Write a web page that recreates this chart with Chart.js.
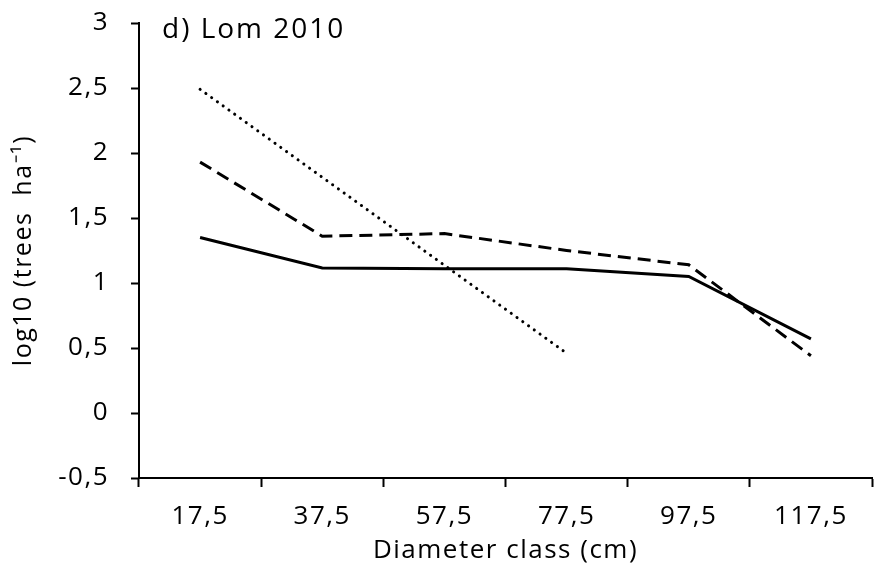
<!DOCTYPE html>
<html>
<head>
<meta charset="utf-8">
<script src="https://cdn.jsdelivr.net/npm/chart.js@4/dist/chart.umd.min.js"></script>
<style>
  html, body { margin: 0; padding: 0; background: #fff; }
  #wrap { width: 883px; height: 566px; }
</style>
</head>
<body>
<div id="wrap"><canvas id="lomChart"></canvas></div>
<script>
// Diameter classes (cm)
const diameterClasses = ['17,5', '37,5', '57,5', '77,5', '97,5', '117,5'];

// log10(trees/ha) per diameter class
const solidSeries = [1.35, 1.115, 1.11, 1.11, 1.05, 0.57];
const dashedSeries = [1.93, 1.36, 1.38, 1.25, 1.14, 0.44];
const dottedSeries = [2.49, null, null, 0.46, null, null];

const yTicks = [-0.5, 0, 0.5, 1, 1.5, 2, 2.5, 3];

const fontFamily = '"Open Sans", sans-serif';

// a bit of letter spacing so the text is as wide as in the original
const wideText = {
    id: 'wideText',
    beforeDraw(chart) { chart.ctx.letterSpacing = '1.5px'; },
    afterDraw(chart) { chart.ctx.letterSpacing = '0px'; }
};

// panel label drawn inside the plot area, top-left
const panelLabel = {
    id: 'panelLabel',
    afterDraw(chart) {
        const ctx = chart.ctx;
        const area = chart.chartArea;
        ctx.save();
        ctx.font = '28px ' + fontFamily;
        ctx.letterSpacing = '2px';
        ctx.fillStyle = '#000';
        ctx.textBaseline = 'middle';
        ctx.fillText('d) Lom 2010', area.left + 23, area.top + 7);
        ctx.restore();
    }
};

const ctx = document.getElementById('lomChart').getContext('2d');

new Chart(ctx, {
    type: 'line',
    data: {
        labels: diameterClasses,
        datasets: [
            {
                data: solidSeries,
                borderColor: '#000',
                borderWidth: 3,
                pointRadius: 0,
                tension: 0
            },
            {
                data: dashedSeries,
                borderColor: '#000',
                borderWidth: 3,
                borderDash: [13, 7],
                pointRadius: 0,
                tension: 0
            },
            {
                data: dottedSeries,
                borderColor: '#000',
                borderWidth: 3,
                borderDash: [0.1, 7],
                borderCapStyle: 'round',
                pointRadius: 0,
                spanGaps: true,
                tension: 0
            }
        ]
    },
    options: {
        responsive: true,
        maintainAspectRatio: false,
        animation: false,
        layout: { padding: { left: 0, right: 11, top: 23, bottom: 0 } },
        plugins: {
            legend: { display: false },
            tooltip: { enabled: false }
        },
        scales: {
            x: {
                offset: true,
                grid: {
                    offset: true,
                    drawOnChartArea: false,
                    tickLength: 9,
                    tickWidth: 2,
                    tickColor: '#000'
                },
                border: { color: '#000', width: 2 },
                ticks: {
                    color: '#000',
                    font: { family: fontFamily, size: 26 },
                    padding: 14,
                    maxRotation: 0
                },
                title: {
                    display: true,
                    text: 'Diameter class (cm)',
                    color: '#000',
                    font: { family: fontFamily, size: 26 },
                    padding: { top: 0, bottom: 0 }
                },
                afterFit(scale) { scale.height = 88; }
            },
            y: {
                min: -0.5,
                max: 3,
                afterBuildTicks(scale) {
                    scale.ticks = yTicks.map(v => ({ value: v }));
                },
                grid: {
                    drawOnChartArea: false,
                    tickLength: 8,
                    tickWidth: 2,
                    tickColor: '#000'
                },
                border: { color: '#000', width: 2 },
                ticks: {
                    color: '#000',
                    font: { family: fontFamily, size: 26 },
                    padding: 22,
                    callback: v => String(v).replace('.', ',')
                },
                title: {
                    display: true,
                    text: 'log10 (trees  ha⁻¹)',
                    color: '#000',
                    font: { family: fontFamily, size: 25 },
                    padding: { top: 9, bottom: 0 }
                },
                afterFit(scale) {
                    scale.width = 139;
                    // don't let label padding push the plot area down
                    scale.paddingTop = 0;
                    scale.paddingBottom = 0;
                }
            }
        }
    },
    plugins: [wideText, panelLabel]
});
</script>
</body>
</html>
